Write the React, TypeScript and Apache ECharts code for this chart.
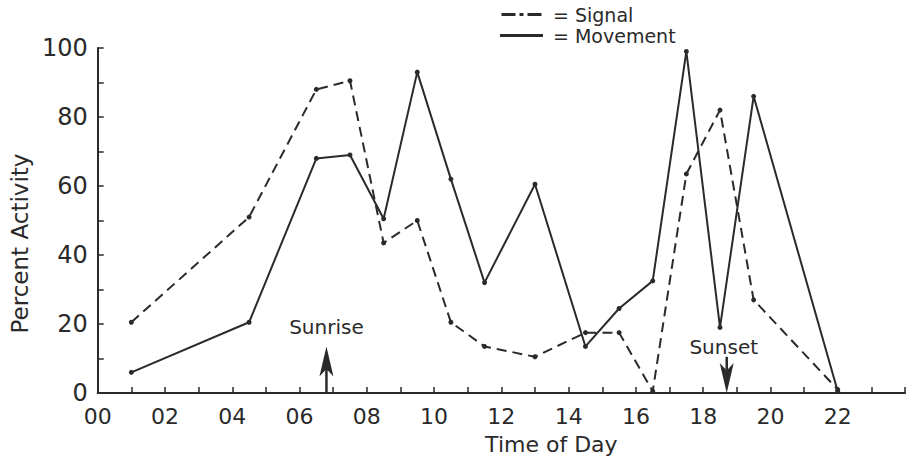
import { useEffect, useRef } from "react";
import * as echarts from "echarts";

// Time of day (hours) at which each sample was taken
const hours = [1, 4.5, 6.5, 7.5, 8.5, 9.5, 10.5, 11.5, 13, 14.5, 15.5, 16.5, 17.5, 18.5, 19.5, 22];
// Percent activity, "Signal" (dashed)
const signal = [20.5, 51, 88, 90.5, 43.5, 50, 20.5, 13.5, 10.5, 17.5, 17.5, 0.5, 63.5, 82, 27, 1];
// Percent activity, "Movement" (solid)
const movement = [6, 20.5, 68, 69, 50.5, 93, 62, 32, 60.5, 13.5, 24.5, 32.5, 99, 19, 86, 0.5];

const xTickLabels = ["00", "02", "04", "06", "08", "10", "12", "14", "16", "18", "20", "22"];
const seriesNames = ["Signal", "Movement"];

// Sunrise / sunset annotations (hour, arrow tail value, arrow tip value, label value)
const sunEventNames = ["Sunrise", "Sunset"];
const sunEventHours = [6.8, 18.7];
const sunArrowFrom = [0, 10.5];
const sunArrowTo = [13.5, 0];
const sunLabelAt = [19, 13.4];

export default function App() {
  const ref = useRef<HTMLDivElement>(null);
  useEffect(() => {
    const chart = echarts.init(ref.current as HTMLDivElement, null, { renderer: "svg" });
    const font = "DejaVu Sans";
    const ink = "#2a2a2a";
    chart.setOption({
      animation: false,
      backgroundColor: "#ffffff",
      textStyle: { fontFamily: font, color: ink },
      grid: { left: 90, right: -29, top: 48, bottom: 69 },
      legend: {
        orient: "vertical",
        left: 495,
        top: 0,
        itemWidth: 43,
        itemHeight: 3,
        itemGap: 2,
        data: [
          { name: seriesNames[0], icon: "path://M0,0h14v3h-14z M18,0h4v3h-4z M26,0h14v3h-14z" },
          { name: seriesNames[1], icon: "path://M0,0h44v3h-44z" },
        ],
        formatter: (n: string) => "= " + n,
        textStyle: { fontFamily: font, fontSize: 19, color: ink, padding: [0, 0, 0, 5] },
      },
      xAxis: {
        type: "value",
        min: 0,
        max: 24,
        interval: 1,
        name: "Time of Day",
        nameLocation: "middle",
        nameGap: 40,
        nameTextStyle: { fontSize: 22, color: ink, padding: [0, 0, 0, 100] },
        axisLine: { lineStyle: { color: ink, width: 2 } },
        axisTick: { inside: true, length: 6, lineStyle: { color: ink, width: 1.5 } },
        splitLine: { show: false },
        axisLabel: {
          margin: 12,
          fontSize: 22,
          color: ink,
          formatter: (v: number) => (v % 2 === 0 && v < 24 ? xTickLabels[v / 2] : ""),
        },
      },
      yAxis: {
        type: "value",
        min: 0,
        max: 100,
        interval: 10,
        name: "Percent Activity",
        nameLocation: "middle",
        nameGap: 58,
        nameTextStyle: { fontSize: 23, color: ink, padding: [0, 46, 0, 0] },
        axisLine: { show: true, lineStyle: { color: ink, width: 2 } },
        axisTick: { show: true, inside: true, length: 6, lineStyle: { color: ink, width: 1.5 } },
        splitLine: { show: false },
        axisLabel: {
          margin: 10,
          fontSize: 24,
          color: ink,
          formatter: (v: number) => (v % 20 === 0 ? String(v) : ""),
        },
      },
      series: [
        {
          name: seriesNames[0],
          type: "line",
          data: hours.map((h, i) => [h, signal[i]]),
          symbol: "circle",
          symbolSize: 5,
          itemStyle: { color: ink },
          lineStyle: { color: ink, width: 2, type: [10, 6] },
        },
        {
          name: seriesNames[1],
          type: "line",
          data: hours.map((h, i) => [h, movement[i]]),
          symbol: "circle",
          symbolSize: 5,
          itemStyle: { color: ink },
          lineStyle: { color: ink, width: 2, type: "solid" },
        },
        {
          name: "sun",
          type: "custom",
          silent: true,
          clip: false,
          data: sunEventHours.map((h, i) => [h, sunArrowFrom[i], sunArrowTo[i], sunLabelAt[i]]),
          encode: { x: 0, y: [1, 2, 3] },
          renderItem: (params: any, api: any) => {
            const h = api.value(0);
            const tail = api.coord([h, api.value(1)]);
            const tip = api.coord([h, api.value(2)]);
            const lab = api.coord([h, api.value(3)]);
            const dy = tip[1] > tail[1] ? 1 : -1;
            const L = 30;
            const W = 7;
            const x = tip[0];
            const baseY = tip[1] - dy * L;
            const notchY = tip[1] - dy * L * 0.75;
            return {
              type: "group",
              children: [
                {
                  type: "line",
                  shape: { x1: x, y1: tail[1], x2: x, y2: notchY },
                  style: { stroke: ink, lineWidth: 2.5 },
                },
                {
                  type: "polygon",
                  shape: {
                    points: [
                      [x, tip[1]],
                      [x - W, baseY],
                      [x, notchY],
                      [x + W, baseY],
                    ],
                  },
                  style: { fill: ink },
                },
                {
                  type: "text",
                  x: lab[0] - (params.dataIndex === 1 ? 3 : 0),
                  y: lab[1],
                  style: {
                    text: sunEventNames[params.dataIndex],
                    fill: ink,
                    font: `20px "${font}"`,
                    align: "center",
                    verticalAlign: "middle",
                  },
                },
              ],
            };
          },
        },
      ],
    });
    return () => chart.dispose();
  }, []);
  return <div ref={ref} style={{ position: "fixed", left: 0, top: 0, width: 908, height: 462 }} />;
}
